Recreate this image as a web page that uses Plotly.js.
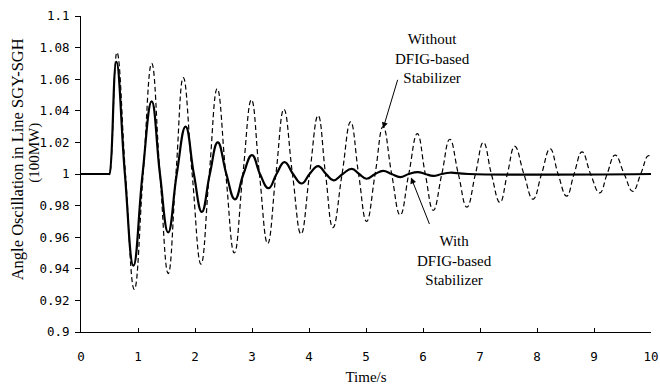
<!DOCTYPE html>
<html>
<head>
<meta charset="utf-8">
<script src="https://cdn.plot.ly/plotly-3.0.1.min.js"></script>
<style>html,body{margin:0;padding:0;background:#fff;}#chart{width:660px;height:386px;}</style>
</head>
<body>
<div id="chart"></div>
<script>
// Without DFIG-based stabilizer (dashed): peaks, troughs and crossings
var tWithout = [0, 0.49, 0.5, 0.63, 0.78, 0.935, 1.09, 1.24, 1.385, 1.53, 1.665, 1.795, 1.95, 2.105, 2.25, 2.39, 2.54, 2.69, 2.84, 2.99, 3.13, 3.275, 3.42, 3.56, 3.71, 3.86, 4.01, 4.16, 4.29, 4.42, 4.58, 4.73, 4.87, 5.01, 5.16, 5.30, 5.45, 5.60, 5.75, 5.90, 6.04, 6.18, 6.33, 6.47, 6.62, 6.77, 6.92, 7.06, 7.20, 7.35, 7.48, 7.61, 7.77, 7.93, 8.08, 8.23, 8.37, 8.52, 8.65, 8.79, 8.94, 9.10, 9.23, 9.37, 9.53, 9.68, 9.82, 9.95, 10];
var vWithout = [1, 1, 1, 1.077, 1, 0.927, 1, 1.070, 1, 0.937, 1, 1.061, 1, 0.943, 1, 1.054, 1, 0.950, 1, 1.047, 1, 0.956, 1, 1.041, 1, 0.962, 1, 1.037, 1, 0.966, 1, 1.033, 1, 0.970, 1, 1.030, 1, 0.974, 1, 1.0255, 1, 0.977, 1, 1.022, 1, 0.979, 1, 1.020, 1, 0.982, 1, 1.0175, 1, 0.984, 1, 1.016, 1, 0.986, 1, 1.014, 1, 0.988, 1, 1.012, 1, 0.989, 1, 1.0115, 1.011];

// With DFIG-based stabilizer (solid)
var tWith = [0, 0.49, 0.5, 0.62, 0.77, 0.92, 1.08, 1.24, 1.385, 1.53, 1.68, 1.835, 1.98, 2.12, 2.26, 2.40, 2.55, 2.70, 2.85, 3.00, 3.14, 3.29, 3.43, 3.57, 3.72, 3.87, 4.01, 4.16, 4.30, 4.43, 4.59, 4.75, 4.88, 5.01, 5.16, 5.30, 5.45, 5.60, 5.75, 5.91, 6.04, 6.18, 6.33, 6.47, 6.8, 10];
var vWith = [1, 1, 1, 1.071, 1, 0.942, 1, 1.046, 1, 0.963, 1, 1.030, 1, 0.976, 1, 1.020, 1, 0.984, 1, 1.012, 1, 0.991, 1, 1.0075, 1, 0.994, 1, 1.005, 1, 0.996, 1, 1.0033, 1, 0.997, 1, 1.002, 1, 0.998, 1, 1.0012, 1, 0.9988, 1, 1.0008, 1, 1];

var yTickVals = [0.9, 0.92, 0.94, 0.96, 0.98, 1, 1.02, 1.04, 1.06, 1.08, 1.1];
var yTickText = ["0.9", "0.92", "0.94", "0.96", "0.98", "1", "1.02", "1.04", "1.06", "1.08", "1.1"];
var xTickVals = [0, 1, 2, 3, 4, 5, 6, 7, 8, 9, 10];
var xTickText = ["0", "1", "2", "3", "4", "5", "6", "7", "8", "9", "10"];

var serif = "Liberation Serif, Times New Roman, serif";
var tickFont = {family: "DejaVu Sans Mono, monospace", size: 12.5, color: "#000"};

var traces = [
  {x: tWithout, y: vWithout, type: "scatter", mode: "lines",
   line: {color: "#000", width: 1.2, dash: "5px,3px", shape: "spline", smoothing: 1.3},
   name: "Without DFIG-based Stabilizer", hoverinfo: "skip"},
  {x: tWith, y: vWith, type: "scatter", mode: "lines",
   line: {color: "#000", width: 2.2, shape: "spline", smoothing: 1.3},
   name: "With DFIG-based Stabilizer", hoverinfo: "skip"}
];

var layout = {
  width: 660, height: 386,
  margin: {l: 81, r: 9, t: 16, b: 54},
  paper_bgcolor: "#fff", plot_bgcolor: "#fff",
  showlegend: false,
  xaxis: {
    range: [0, 10], tickvals: xTickVals, ticktext: xTickText,
    showgrid: false, zeroline: false, showline: true, linecolor: "#000", linewidth: 1,
    ticks: "inside", ticklen: 4, tickcolor: "#000", tickwidth: 1,
    ticklabelstandoff: 13,
    tickfont: tickFont,
    title: {text: "Time/s", font: {family: serif, size: 15, color: "#000"}, standoff: 8}
  },
  yaxis: {
    range: [0.9, 1.1], tickvals: yTickVals, ticktext: yTickText,
    showgrid: false, zeroline: false, showline: true, linecolor: "#000", linewidth: 1,
    ticks: "outside", ticklen: 5, tickcolor: "#000", tickwidth: 1,
    ticklabelstandoff: 3,
    tickfont: tickFont
  },
  annotations: [
    {xref: "paper", yref: "paper", x: -0.112, y: 0.547, xanchor: "center", yanchor: "middle",
     text: "Angle Oscillation in Line SGY-SGH", textangle: -90, showarrow: false,
     font: {family: serif, size: 16.5, color: "#000"}},
    {xref: "paper", yref: "paper", x: -0.083, y: 0.566, xanchor: "center", yanchor: "middle",
     text: "(100MW)", textangle: -90, showarrow: false,
     font: {family: serif, size: 15, color: "#000"}},
    {x: 6.16, y: 1.0733, xref: "x", yref: "y", text: "Without<br>DFIG-based<br>Stabilizer",
     showarrow: false, font: {family: serif, size: 15, color: "#000"}, align: "center"},
    {x: 6.56, y: 0.9451, xref: "x", yref: "y", text: "With<br>DFIG-based<br>Stabilizer",
     showarrow: false, font: {family: serif, size: 15, color: "#000"}, align: "center"},
    {x: 5.30, y: 1.0289, xref: "x", yref: "y", text: "", showarrow: true,
     ax: 15, ay: -50, arrowhead: 2, arrowsize: 1.2, arrowwidth: 1, arrowcolor: "#000"},
    {x: 5.79, y: 0.9978, xref: "x", yref: "y", text: "", showarrow: true,
     ax: 19, ay: 48, arrowhead: 2, arrowsize: 1.2, arrowwidth: 1, arrowcolor: "#000"}
  ]
};

Plotly.newPlot("chart", traces, layout, {staticPlot: true, displayModeBar: false});
</script>
</body>
</html>
